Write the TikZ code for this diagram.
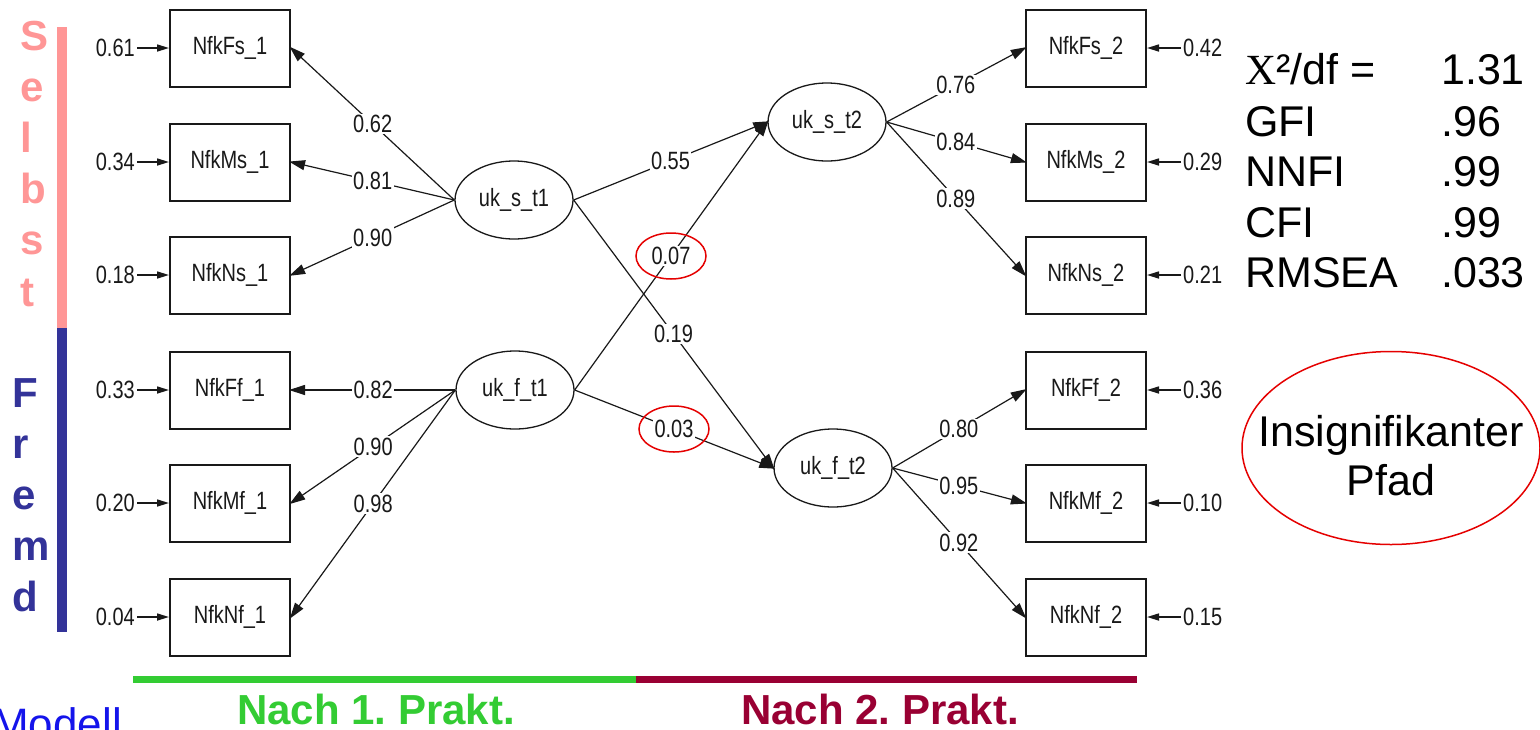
\documentclass[tikz,border=0pt]{standalone}
\usepackage{fontspec}
\setmainfont{Liberation Sans}
\newfontfamily\amosfont[FakeStretch=0.8]{Liberation Sans}
\newfontfamily\chifont{Liberation Serif}
\usetikzlibrary{arrows.meta,shapes.geometric}
\frenchspacing

\definecolor{selbstpink}{RGB}{255,150,150}
\definecolor{fremdblue}{RGB}{51,51,153}
\definecolor{praktgreen}{RGB}{51,204,51}
\definecolor{praktred}{RGB}{153,0,51}
\definecolor{modellblue}{RGB}{20,20,235}
\definecolor{ink}{RGB}{25,25,25}

\begin{document}
\begin{tikzpicture}[x=1pt,y=-1pt,
  amos/.style={font=\amosfont\fontsize{25}{25}\selectfont, text=ink},
  obs/.style={amos, draw=ink, line width=2pt, minimum width=120pt,
    minimum height=77pt, inner sep=0pt},
  lat/.style={amos, draw=ink, line width=1.3pt, ellipse, minimum width=118pt,
    minimum height=78pt, inner sep=0pt},
  load/.style={draw=ink, line width=1.2pt, -{Triangle[length=16pt,width=10pt]},
    shorten >=-2pt},
  errarrow/.style={draw=ink, line width=1.6pt, -{Triangle[length=12pt,width=7pt]}},
  lbl/.style={amos, fill=white, inner sep=1.5pt},
  errlbl/.style={amos, inner sep=2pt},
  flag/.style={draw=red!90!black, line width=1.5pt, ellipse, minimum width=70pt,
    minimum height=46pt, inner sep=0pt},
  big/.style={font=\fontsize{43}{43}\selectfont, text=black, inner sep=0pt},
  vletter/.style={font=\bfseries\fontsize{42}{42}\selectfont, inner sep=0pt, anchor=base west},
  bottomtxt/.style={font=\bfseries\fontsize{42}{42}\selectfont, inner sep=0pt, anchor=base},
]
\clip (0,0) rectangle (1540,729);
\fill[white] (0,0) rectangle (1540,729);

% side bars and vertical captions
\fill[selbstpink] (57,27) rectangle (67,328);
\fill[fremdblue] (57,328) rectangle (67,632);
\foreach \ch [count=\i from 0] in {S,e,l,b,s,t}
  \node[vletter, text=selbstpink] (sel\i) at (20,50+51.2*\i) {\ch};
\foreach \ch [count=\i from 0] in {F,r,e,m,d}
  \node[vletter, text=fremdblue] (frm\i) at (12,407+51.2*\i) {\ch};

% observed indicators, first measurement
\node[obs] (Fs1) at (230,48) {NfkFs\_1};
\node[obs] (Ms1) at (230,162) {NfkMs\_1};
\node[obs] (Ns1) at (230,275) {NfkNs\_1};
\node[obs] (Ff1) at (230,390) {NfkFf\_1};
\node[obs] (Mf1) at (230,503) {NfkMf\_1};
\node[obs] (Nf1) at (230,617) {NfkNf\_1};

% observed indicators, second measurement
\node[obs] (Fs2) at (1086,48) {NfkFs\_2};
\node[obs] (Ms2) at (1086,162) {NfkMs\_2};
\node[obs] (Ns2) at (1086,275) {NfkNs\_2};
\node[obs] (Ff2) at (1086,390) {NfkFf\_2};
\node[obs] (Mf2) at (1086,503) {NfkMf\_2};
\node[obs] (Nf2) at (1086,617) {NfkNf\_2};

% latent factors
\node[lat] (st1) at (514,200) {uk\_s\_t1};
\node[lat] (ft1) at (515,390) {uk\_f\_t1};
\node[lat] (st2) at (827,122) {uk\_s\_t2};
\node[lat] (ft2) at (833,468) {uk\_f\_t2};

% error variances, left
\foreach \b/\v in {Fs1/0.61, Ms1/0.34, Ns1/0.18, Ff1/0.33, Mf1/0.20, Nf1/0.04} {
  \node[errlbl, anchor=east] (e\b) at ([xshift=-32pt]\b.west) {\v};
  \draw[errarrow] (e\b) -- (\b.west);
}
% error variances, right
\foreach \b/\v in {Fs2/0.42, Ms2/0.29, Ns2/0.21, Ff2/0.36, Mf2/0.10, Nf2/0.15} {
  \node[errlbl, anchor=west] (e\b) at ([xshift=34pt]\b.east) {\v};
  \draw[errarrow] (e\b) -- (\b.east);
}

% loadings, first measurement
\draw[load] (st1.west) -- node[lbl] {0.62} (Fs1.east);
\draw[load] (st1.west) -- node[lbl] {0.81} (Ms1.east);
\draw[load] (st1.west) -- node[lbl] {0.90} (Ns1.east);
\draw[load] (ft1.west) -- node[lbl] {0.82} (Ff1.east);
\draw[load] (ft1.west) -- node[lbl] {0.90} (Mf1.east);
\draw[load] (ft1.west) -- node[lbl] {0.98} (Nf1.east);

% loadings, second measurement
\draw[load] (st2.east) -- node[lbl] {0.76} (Fs2.west);
\draw[load] (st2.east) -- node[lbl] {0.84} (Ms2.west);
\draw[load] (st2.east) -- node[lbl] {0.89} (Ns2.west);
\draw[load] (ft2.east) -- node[lbl] {0.80} (Ff2.west);
\draw[load] (ft2.east) -- node[lbl] {0.95} (Mf2.west);
\draw[load] (ft2.east) -- node[lbl] {0.92} (Nf2.west);

% structural paths
\draw[load] (st1.east) -- node[lbl] {0.55} (st2.west);
\draw[load] (st1.east) -- node[lbl] {0.19} (ft2.west);
\draw[load] (ft1.east) -- node[lbl] (p07) {0.07} (st2.west);
\draw[load] (ft1.east) -- node[lbl] (p03) {0.03} (ft2.west);
\node[flag] (r07) at (p07) {};
\node[flag] (r03) at (p03) {};

% fit statistics
\node[big, anchor=base west] (k1) at (1245,84) {{\chifont Χ}²/df =};
\node[big, anchor=base west] (v1) at (1441,84) {1.31};
\node[big, anchor=base west] (k2) at (1245,136) {GFI};
\node[big, anchor=base west] (v2) at (1441,136) {.96};
\node[big, anchor=base west] (k3) at (1245,186) {NNFI};
\node[big, anchor=base west] (v3) at (1441,186) {.99};
\node[big, anchor=base west] (k4) at (1245,237) {CFI};
\node[big, anchor=base west] (v4) at (1441,237) {.99};
\node[big, anchor=base west] (k5) at (1245,287) {RMSEA};
\node[big, anchor=base west] (v5) at (1441,287) {.033};

% legend for the marked paths
\node[draw=red!90!black, line width=1.5pt, ellipse, minimum width=298pt,
  minimum height=193pt, inner sep=0pt] (legend) at (1391,448) {};
\node[big, align=center, font=\fontsize{43}{49}\selectfont] (legtxt) at (1391,456)
  {Insignifikanter\\Pfad};

% time axis
\fill[praktgreen] (133,676) rectangle (636,683);
\fill[praktred] (636,676) rectangle (1137,683);
\node[bottomtxt, text=praktgreen] (t1) at (376,724) {Nach 1. Prakt.};
\node[bottomtxt, text=praktred] (t2) at (880,724) {Nach 2. Prakt.};
\node[font=\fontsize{44}{44}\selectfont, text=modellblue, inner sep=0pt,
  anchor=base west] (modell) at (-8,739) {Modell};
\end{tikzpicture}
\end{document}
